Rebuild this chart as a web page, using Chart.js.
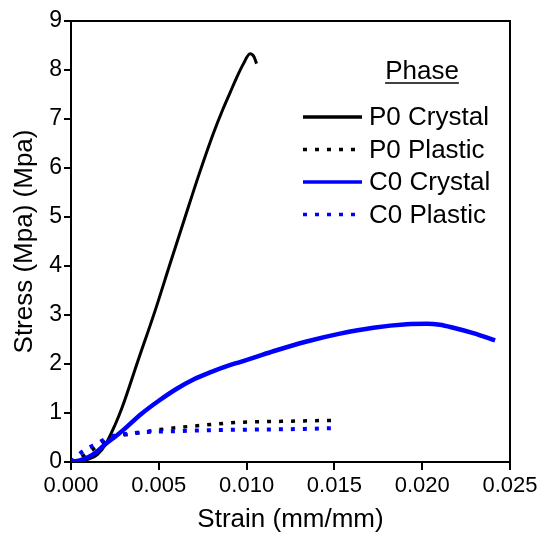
<!DOCTYPE html>
<html>
<head>
<meta charset="utf-8">
<script src="https://cdn.jsdelivr.net/npm/chart.js@4.4.1/dist/chart.umd.min.js"></script>
<style>
  html, body { margin: 0; padding: 0; background: #fff; }
  canvas { display: block; }
</style>
</head>
<body>
<canvas id="chart" width="541" height="534"></canvas>
<script>
// values
const seriesNames = ['P0 Crystal', 'P0 Plastic', 'C0 Crystal', 'C0 Plastic'];

const p0CrystalStrain = [0, 0.0005, 0.001, 0.0015, 0.002, 0.0025, 0.0029, 0.0038, 0.0048, 0.0056, 0.0065, 0.0073, 0.0081, 0.00865, 0.00905, 0.00944, 0.00981, 0.0102, 0.01042, 0.01057];
const p0CrystalStress = [0, 0.02, 0.06, 0.15, 0.38, 0.75, 1.1, 2.05, 3.1, 4.0, 5.0, 5.88, 6.7, 7.2, 7.53, 7.85, 8.12, 8.33, 8.27, 8.13];

const p0PlasticStrain = [0, 0.0005, 0.001, 0.0015, 0.002, 0.0024, 0.003, 0.0036, 0.0048, 0.006, 0.0075, 0.0096, 0.012, 0.0149];
const p0PlasticStress = [0, 0.08, 0.2, 0.32, 0.44, 0.51, 0.55, 0.58, 0.65, 0.7, 0.75, 0.81, 0.83, 0.85];

const c0CrystalStrain = [0, 0.0005, 0.001, 0.0015, 0.002, 0.0025, 0.003, 0.004, 0.005, 0.006, 0.007, 0.008, 0.009, 0.00962, 0.0105, 0.01152, 0.01342, 0.01532, 0.01722, 0.01912, 0.02025, 0.021, 0.02177, 0.02291, 0.02415];
const c0CrystalStress = [0, 0.03, 0.1, 0.22, 0.38, 0.51, 0.66, 0.98, 1.25, 1.49, 1.69, 1.84, 1.97, 2.04, 2.14, 2.26, 2.46, 2.62, 2.74, 2.81, 2.82, 2.8, 2.74, 2.63, 2.48];

const c0PlasticStrain = [0, 0.0005, 0.0009, 0.0015, 0.0019, 0.0025, 0.0033, 0.0041, 0.006, 0.008, 0.010, 0.0125, 0.0149];
const c0PlasticStress = [0, 0.17, 0.27, 0.38, 0.46, 0.54, 0.58, 0.61, 0.63, 0.65, 0.66, 0.67, 0.69];

const xTicks = [0, 0.005, 0.01, 0.015, 0.02, 0.025];
const yTicks = [0, 1, 2, 3, 4, 5, 6, 7, 8, 9];

const FONT = '"Liberation Sans", Arial, sans-serif';

function pts(xs, ys) {
  return xs.map((x, i) => ({ x: x, y: ys[i] }));
}

// box on top/right + legend drawn inside the plot
const framePlugin = {
  id: 'frame',
  afterDraw(chart) {
    const ctx = chart.ctx;
    const a = chart.chartArea;
    ctx.save();
    ctx.strokeStyle = '#000';
    ctx.lineWidth = 2;
    ctx.beginPath();
    ctx.moveTo(a.left, a.top);
    ctx.lineTo(a.right, a.top);
    ctx.lineTo(a.right, a.bottom);
    ctx.stroke();

    // legend
    ctx.fillStyle = '#000';
    ctx.font = '26px ' + FONT;
    ctx.textBaseline = 'middle';
    ctx.textAlign = 'center';
    ctx.fillText('Phase', 422, 72);
    const w = ctx.measureText('Phase').width;
    ctx.lineWidth = 1.5;
    ctx.beginPath();
    ctx.moveTo(422 - w / 2, 83);
    ctx.lineTo(422 + w / 2, 83);
    ctx.stroke();

    ctx.textAlign = 'left';
    const rows = [117, 149.5, 182, 214.5];
    chart.data.datasets.forEach((ds, i) => {
      const y = rows[i];
      ctx.strokeStyle = ds.borderColor;
      ctx.lineWidth = 3.5;
      ctx.setLineDash(ds.borderDash);
      ctx.beginPath();
      ctx.moveTo(303, y);
      ctx.lineTo(362, y);
      ctx.stroke();
      ctx.setLineDash([]);
      ctx.fillStyle = '#000';
      ctx.fillText(ds.label, 369, y + 1);
    });
    ctx.restore();
  }
};

const ctx = document.getElementById('chart').getContext('2d');
new Chart(ctx, {
  type: 'scatter',
  data: {
    datasets: [
      {
        label: seriesNames[0],
        data: pts(p0CrystalStrain, p0CrystalStress),
        borderColor: '#000000',
        borderWidth: 3,
        borderDash: [],
        order: 3
      },
      {
        label: seriesNames[1],
        data: pts(p0PlasticStrain, p0PlasticStress),
        borderColor: '#000000',
        borderWidth: 3.5,
        borderDash: [4, 8],
        order: 2
      },
      {
        label: seriesNames[2],
        data: pts(c0CrystalStrain, c0CrystalStress),
        borderColor: '#0000ff',
        borderWidth: 4.5,
        borderDash: [],
        order: 0
      },
      {
        label: seriesNames[3],
        data: pts(c0PlasticStrain, c0PlasticStress),
        borderColor: '#0000ff',
        borderWidth: 4,
        borderDash: [4, 8],
        order: 1
      }
    ]
  },
  options: {
    responsive: false,
    animation: false,
    showLine: true,
    layout: { padding: { top: 21, right: 31, left: 0, bottom: 0 } },
    elements: {
      point: { radius: 0, hoverRadius: 0 },
      line: { cubicInterpolationMode: 'monotone', fill: false, borderCapStyle: 'butt', borderJoinStyle: 'round' }
    },
    plugins: {
      legend: { display: false },
      tooltip: { enabled: false }
    },
    scales: {
      x: {
        type: 'linear',
        min: 0,
        max: 0.025,
        afterBuildTicks(scale) {
          scale.ticks = xTicks.map(v => ({ value: v }));
        },
        afterFit(scale) {
          scale.height = 72;
          scale.paddingLeft = 0;
          scale.paddingRight = 0;
        },
        ticks: {
          color: '#000',
          font: { family: FONT, size: 22 },
          padding: 3,
          maxRotation: 0,
          autoSkip: false,
          callback: v => Number(v).toFixed(3)
        },
        grid: {
          display: true,
          drawOnChartArea: false,
          drawTicks: true,
          tickLength: 8,
          color: '#000',
          lineWidth: 2
        },
        border: { display: true, color: '#000', width: 2 },
        title: {
          display: true,
          text: 'Strain (mm/mm)',
          color: '#000',
          font: { family: FONT, size: 26, lineHeight: 1.1 },
          padding: 0
        }
      },
      y: {
        type: 'linear',
        min: 0,
        max: 9,
        afterBuildTicks(scale) {
          scale.ticks = yTicks.map(v => ({ value: v }));
        },
        afterFit(scale) {
          scale.width = 71;
          scale.paddingTop = 0;
          scale.paddingBottom = 0;
        },
        ticks: {
          color: '#000',
          font: { family: FONT, size: 23 },
          padding: 2,
          autoSkip: false
        },
        grid: {
          display: true,
          drawOnChartArea: false,
          drawTicks: true,
          tickLength: 7,
          color: '#000',
          lineWidth: 2
        },
        border: { display: true, color: '#000', width: 2 },
        title: {
          display: true,
          text: 'Stress (Mpa) (Mpa)',
          color: '#000',
          font: { family: FONT, size: 26, lineHeight: 1.2 },
          padding: { top: 9, bottom: 0 }
        }
      }
    }
  },
  plugins: [framePlugin]
});
</script>
</body>
</html>
